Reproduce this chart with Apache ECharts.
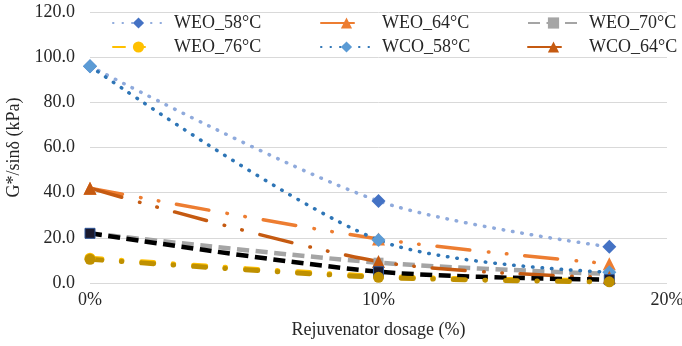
<!DOCTYPE html>
<html>
<head>
<meta charset="utf-8">
<script src="https://cdn.jsdelivr.net/npm/echarts@6/dist/echarts.min.js"></script>
<style>html,body{margin:0;padding:0;background:#fff}#c{width:682px;height:346px}</style>
</head>
<body>
<div id="c"></div>
<script>
const dosage = [0, 10, 18];
const xTicks = [0, 10, 20];
const yTicks = [0, 20, 40, 60, 80, 100, 120];
const WEO_58 = [96, 36.3, 16];
const WEO_64 = [42, 19.5, 8.5];
const WEO_70 = [22, 9, 4];
const WEO_76 = [11, 3, 1];
const WCO_58 = [96, 19, 4.8];
const WCO_64 = [42, 9.5, 2.5];
const WCO_70 = [22, 5, 1.5];
const WCO_76 = [10.5, 2.5, 0.5];

const FONT = "'Liberation Serif','Times New Roman',serif";
const pair = v => dosage.map((x, i) => [x, v[i]]);

function s(name, data, color, mcolor, symbol, size, width, dash, cap) {
  return {
    name, type: 'line', data: pair(data), smooth: 0.3,
    symbol, symbolSize: size,
    itemStyle: { color: mcolor, borderColor: mcolor, borderWidth: 0 },
    lineStyle: { color, width, type: dash, cap: cap || 'round' },
    emphasis: { disabled: true }
  };
}
const dotDash = [33, 18.5, 0.5, 17.5, 0.5, 18];
const dashDot = [12, 19.5, 0.5, 20];
const series = [
  s('WEO_58°C', WEO_58, '#8FAADC', '#4472C4', 'diamond', 14, 3.5, [0.5, 9]),
  s('WEO_64°C', WEO_64, '#ED7D31', '#ED7D31', 'triangle', 13, 3.5, dotDash),
  s('WEO_70°C', WEO_70, '#A5A5A5', '#A5A5A5', 'rect', 10, 4.5, [12, 6.5], 'butt'),
  s('WEO_76°C', WEO_76, '#FFC000', '#FFC000', 'circle', 11, 5, dashDot),
  s('WCO_58°C', WCO_58, '#2E75B6', '#5B9BD5', 'diamond', 14, 3.5, [0.5, 9]),
  s('WCO_64°C', WCO_64, '#C55A11', '#C55A11', 'triangle', 13, 3.5, dotDash),
  s('WCO_70°C', WCO_70, '#000000', '#1a1a2e', 'rect', 10, 4.5, [12, 6.5], 'butt'),
  s('WCO_76°C', WCO_76, '#BF9000', '#BF9000', 'circle', 11, 5, dashDot)
];
series[6].itemStyle.borderColor = '#2F5597';
series[6].itemStyle.borderWidth = 1;

const legendPos = [
  ['WEO_58°C', 112, 14], ['WEO_64°C', 320, 14], ['WEO_70°C', 527, 14],
  ['WEO_76°C', 112, 38], ['WCO_58°C', 320, 38], ['WCO_64°C', 527, 38]
];
const legends = legendPos.map(([n, l, t]) => ({
  data: [n], left: l, top: t, padding: 0,
  itemWidth: 51, itemHeight: 14,
  textStyle: { fontFamily: FONT, fontSize: 18, color: '#262626', padding: [0, 0, 0, 5] },
  selectedMode: false
}));

const chart = echarts.init(document.getElementById('c'), null, { renderer: 'canvas' });
chart.setOption({
  animation: false,
  backgroundColor: '#fff',
  legend: legends,
  grid: { left: 90, right: 15, top: 12, bottom: 63, containLabel: false, outerBoundsMode: 'none' },
  xAxis: {
    type: 'value', min: xTicks[0], max: xTicks[xTicks.length - 1], interval: 10,
    name: 'Rejuvenator dosage (%)', nameLocation: 'middle', nameGap: 38,
    nameTextStyle: { fontFamily: FONT, fontSize: 18, color: '#262626' },
    axisLine: { show: false }, axisTick: { show: false }, splitLine: { show: false },
    axisLabel: { fontFamily: FONT, fontSize: 18, color: '#262626', margin: 8, formatter: v => v + '%' }
  },
  yAxis: {
    type: 'value', min: yTicks[0], max: yTicks[yTicks.length - 1], interval: 20,
    name: 'G*/sinδ (kPa)', nameLocation: 'middle', nameGap: 61, nameRotate: 90,
    nameTextStyle: { fontFamily: FONT, fontSize: 18, color: '#262626' },
    axisLine: { show: false }, axisTick: { show: false },
    splitLine: { lineStyle: { color: '#D9D9D9', width: 1 } },
    axisLabel: { fontFamily: FONT, fontSize: 18, color: '#262626', margin: 15, formatter: v => v.toFixed(1) }
  },
  series
});
</script>
</body>
</html>
